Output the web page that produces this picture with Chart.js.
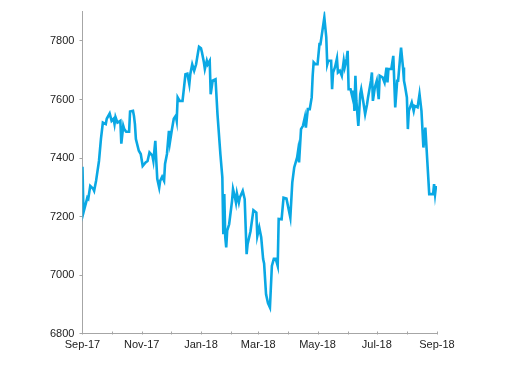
<!DOCTYPE html>
<html>
<head>
<meta charset="utf-8">
<script src="https://cdn.jsdelivr.net/npm/chart.js@4/dist/chart.umd.min.js"></script>
<style>
html,body{margin:0;padding:0;background:#fff;}
#wrap{width:512px;height:365px;position:relative;}
</style>
</head>
<body>
<div id="wrap"><canvas id="c" width="512" height="365"></canvas></div>
<script>
const startDate = "2017-09-01";
const dayOffsets = [0,1,5,6,8,11,12,14,17,19,21,24,25,28,30,32,33,34,36,39,40,42,43,45,48,49,52,53,54,55,58,60,62,65,67,69,72,73,75,76,77,79,80,82,84,85,87,89,90,92,94,96,97,98,100,103,104,106,108,110,111,113,115,117,119,120,122,123,125,126,128,129,131,132,134,137,139,142,144,145,146,147,148,149,151,154,155,157,158,159,161,162,165,167,169,170,173,176,179,180,182,184,186,187,189,191,193,195,197,199,201,202,205,207,210,214,216,218,221,222,223,225,227,229,230,232,234,236,237,238,240,242,244,245,247,249,251,252,253,256,257,258,260,262,263,265,267,269,270,272,273,274,276,278,279,280,281,282,284,286,287,289,291,293,294,297,298,299,301,303,305,306,309,311,313,314,315,318,320,322,324,325,327,328,330,331,332,334,335,336,339,341,342,345,347,349,351,353,354,356,357,361,362,363,364];
const values = [7370,7214,7265,7261,7305,7295,7288,7322,7390,7465,7521,7516,7534,7552,7527,7534,7516,7540,7521,7527,7449,7510,7499,7490,7490,7559,7561,7544,7516,7465,7425,7414,7373,7385,7390,7419,7408,7390,7459,7390,7329,7299,7322,7336,7322,7380,7414,7493,7453,7496,7534,7544,7527,7607,7595,7595,7624,7686,7688,7652,7686,7720,7698,7720,7761,7780,7775,7761,7727,7704,7732,7720,7732,7618,7664,7669,7550,7413,7334,7140,7277,7130,7095,7152,7174,7254,7294,7265,7248,7279,7248,7265,7288,7260,7072,7106,7150,7222,7214,7134,7163,7130,7055,7040,6935,6905,6890,7032,7056,7056,7032,7192,7191,7265,7262,7197,7316,7368,7402,7425,7385,7499,7510,7540,7504,7567,7567,7607,7681,7727,7720,7720,7789,7789,7834,7880,7812,7720,7732,7732,7635,7692,7710,7740,7692,7698,7681,7732,7710,7740,7766,7635,7635,7607,7630,7561,7681,7595,7510,7618,7635,7595,7550,7584,7607,7664,7692,7595,7641,7664,7601,7681,7675,7658,7709,7658,7704,7704,7749,7573,7664,7664,7743,7777,7709,7664,7647,7607,7499,7561,7590,7561,7578,7573,7618,7561,7436,7504,7447,7334,7277,7277,7311,7277,7305];
const yTicks = [6800,7000,7200,7400,7600,7800];
const xTickLabels = ["Sep-17","Nov-17","Jan-18","Mar-18","May-18","Jul-18","Sep-18"];
const monthNames = ["Jan","Feb","Mar","Apr","May","Jun","Jul","Aug","Sep","Oct","Nov","Dec"];

const start = new Date(startDate + "T00:00:00Z");
const dayMs = 86400000;
const monthTicks = [];
for (let i = 0; i <= 12; i++) {
  const d = new Date(Date.UTC(2017, 8 + i, 1));
  const lab = monthNames[d.getUTCMonth()] + "-" + String(d.getUTCFullYear()).slice(2);
  monthTicks.push({value: Math.round((d - start) / dayMs), label: lab});
}
const endDay = monthTicks[monthTicks.length - 1].value;
const points = dayOffsets.map((d, i) => ({x: d, y: values[i]}));

const lineColor = "#0AA8E4";
const axisColor = "#a6a6a6";
const textColor = "#222222";
const font = {family: "'Liberation Sans', Arial, sans-serif", size: 11};

const innerTicks = {
  id: "innerTicks",
  afterDraw(chart) {
    const sx = chart.scales.x;
    const ctx = chart.ctx;
    ctx.save();
    ctx.strokeStyle = axisColor;
    ctx.lineWidth = 1;
    const yb = Math.round(sx.top) + 0.5;
    monthTicks.forEach(t => {
      const px = Math.round(sx.getPixelForValue(t.value)) + 0.5;
      ctx.beginPath();
      ctx.moveTo(px, yb);
      ctx.lineTo(px, yb - 3);
      ctx.stroke();
    });
    ctx.restore();
  }
};

new Chart(document.getElementById("c"), {
  type: "line",
  data: {
    datasets: [{
      data: points,
      borderColor: lineColor,
      borderWidth: 2.6,
      pointRadius: 0,
      tension: 0,
      fill: false
    }]
  },
  options: {
    responsive: false,
    animation: false,
    events: [],
    layout: {padding: {left: 45, right: 75, top: 10, bottom: 8}},
    plugins: {legend: {display: false}, tooltip: {enabled: false}},
    scales: {
      x: {
        type: "linear",
        min: 0,
        max: endDay,
        afterBuildTicks: s => { s.ticks = monthTicks.map(t => ({value: t.value})); },
        grid: {display: true, drawOnChartArea: false, drawTicks: false},
        border: {color: axisColor, width: 1},
        ticks: {
          autoSkip: false,
          maxRotation: 0,
          padding: 5,
          color: textColor,
          font: font,
          callback: function(v) {
            const t = monthTicks.find(m => m.value === v);
            return t && xTickLabels.includes(t.label) ? t.label : "";
          }
        }
      },
      y: {
        min: 6800,
        max: 7900,
        afterBuildTicks: s => { s.ticks = yTicks.map(v => ({value: v})); },
        grid: {display: true, drawOnChartArea: false, drawTicks: true, tickLength: 3, color: axisColor},
        border: {color: axisColor, width: 1},
        ticks: {padding: 5, color: textColor, font: font, callback: v => String(v)}
      }
    }
  },
  plugins: [innerTicks]
});
</script>
</body>
</html>
